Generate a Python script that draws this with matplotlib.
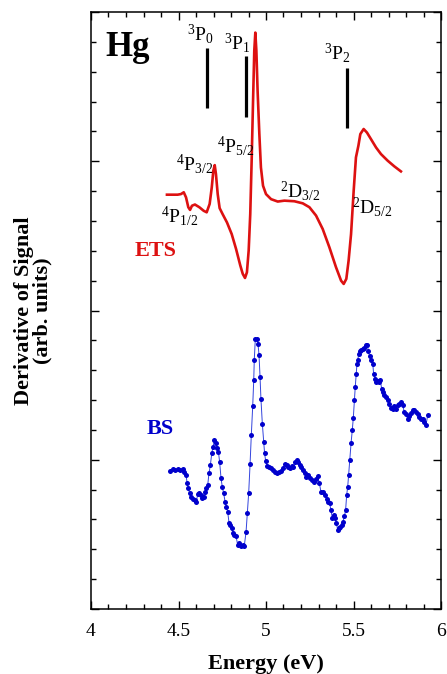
import matplotlib
matplotlib.use("Agg")
import matplotlib.pyplot as plt
from matplotlib.ticker import MultipleLocator, NullFormatter

plt.rcParams['font.family'] = ['Liberation Serif', 'DejaVu Serif']
plt.rcParams['mathtext.fontset'] = 'custom'
plt.rcParams['mathtext.rm'] = 'Liberation Serif'
plt.rcParams['mathtext.it'] = 'Liberation Serif:italic'
plt.rcParams['mathtext.bf'] = 'Liberation Serif:bold'

# ---------------- data ----------------
ets_energy = [4.434, 4.495, 4.514, 4.530, 4.543, 4.556, 4.566, 4.577, 4.594, 4.619,
              4.644, 4.661, 4.678, 4.690, 4.699, 4.707, 4.714, 4.724, 4.735, 4.752,
              4.777, 4.804, 4.829, 4.853, 4.867, 4.880, 4.891, 4.901, 4.910, 4.918,
              4.926, 4.933, 4.939, 4.945, 4.952, 4.962, 4.971, 4.983, 5.000, 5.029,
              5.067, 5.105, 5.162, 5.210, 5.248, 5.286, 5.324, 5.362, 5.400, 5.429,
              5.444, 5.459, 5.472, 5.486, 5.501, 5.514, 5.528, 5.539, 5.558, 5.577,
              5.600, 5.629, 5.657, 5.695, 5.733, 5.771]
ets_signal = [13.88, 13.88, 13.90, 13.96, 13.79, 13.46, 13.37, 13.51, 13.55, 13.46,
              13.34, 13.29, 13.57, 14.12, 14.68, 14.87, 14.57, 13.90, 13.43, 13.23,
              12.95, 12.56, 12.06, 11.51, 11.23, 11.09, 11.28, 12.01, 13.23, 15.02,
              17.02, 18.70, 19.31, 18.70, 17.36, 15.91, 14.79, 14.18, 13.90, 13.73,
              13.65, 13.68, 13.66, 13.59, 13.46, 13.18, 12.73, 12.12, 11.45, 11.00,
              10.89, 11.06, 11.67, 12.56, 14.01, 15.13, 15.52, 15.91, 16.08, 15.96,
              15.74, 15.46, 15.24, 15.02, 14.83, 14.66]

bs_energy = [4.453, 4.467, 4.482, 4.495, 4.510, 4.524, 4.533, 4.543, 4.549, 4.556,
             4.564, 4.571, 4.583, 4.594, 4.602, 4.610, 4.619, 4.629, 4.636, 4.644,
             4.651, 4.659, 4.667, 4.674, 4.682, 4.690, 4.697, 4.705, 4.712, 4.720,
             4.728, 4.735, 4.743, 4.750, 4.758, 4.766, 4.773, 4.781, 4.789, 4.796,
             4.804, 4.811, 4.819, 4.829, 4.838, 4.848, 4.857, 4.867, 4.876, 4.886,
             4.893, 4.901, 4.909, 4.916, 4.924, 4.930, 4.933, 4.939, 4.947, 4.954,
             4.960, 4.966, 4.971, 4.979, 4.987, 4.992, 4.998, 5.006, 5.015, 5.029,
             5.040, 5.051, 5.063, 5.074, 5.086, 5.097, 5.109, 5.118, 5.128, 5.137,
             5.147, 5.156, 5.166, 5.175, 5.185, 5.192, 5.200, 5.211, 5.223, 5.230,
             5.242, 5.253, 5.265, 5.276, 5.288, 5.295, 5.305, 5.314, 5.326, 5.337,
             5.349, 5.356, 5.364, 5.371, 5.379, 5.387, 5.394, 5.402, 5.410, 5.417,
             5.425, 5.432, 5.440, 5.448, 5.455, 5.461, 5.467, 5.472, 5.478, 5.486,
             5.493, 5.499, 5.505, 5.510, 5.516, 5.520, 5.524, 5.530, 5.535, 5.543,
             5.552, 5.562, 5.571, 5.577, 5.585, 5.592, 5.600, 5.610, 5.615, 5.623,
             5.630, 5.638, 5.646, 5.653, 5.661, 5.669, 5.676, 5.686, 5.695, 5.705,
             5.714, 5.724, 5.733, 5.743, 5.752, 5.762, 5.771, 5.781, 5.790, 5.800,
             5.810, 5.819, 5.829, 5.838, 5.848, 5.857, 5.867, 5.876, 5.886, 5.895,
             5.905, 5.914, 5.924]
bs_signal = [4.63, 4.69, 4.65, 4.68, 4.65, 4.69, 4.60, 4.49, 4.23, 4.04,
             3.88, 3.76, 3.69, 3.65, 3.60, 3.85, 3.88, 3.82, 3.71, 3.76,
             3.93, 4.04, 4.15, 4.54, 4.82, 5.21, 5.43, 5.66, 5.55, 5.38,
             5.27, 4.93, 4.38, 4.10, 3.88, 3.60, 3.43, 3.26, 2.87, 2.82,
             2.71, 2.54, 2.48, 2.43, 2.15, 2.20, 2.12, 2.15, 2.12, 2.58,
             3.21, 3.88, 4.86, 5.82, 6.79, 7.68, 8.35, 9.05, 9.05, 8.89,
             8.52, 7.77, 7.05, 6.21, 5.60, 5.21, 4.97, 4.80, 4.77, 4.71,
             4.65, 4.60, 4.54, 4.60, 4.63, 4.71, 4.86, 4.82, 4.77, 4.71,
             4.80, 4.77, 4.93, 4.99, 4.93, 4.82, 4.77, 4.65, 4.54, 4.43,
             4.49, 4.38, 4.32, 4.27, 4.35, 4.45, 4.21, 3.93, 3.93, 3.82,
             3.69, 3.60, 3.54, 3.32, 3.04, 3.15, 3.04, 2.87, 2.65, 2.71,
             2.76, 2.82, 2.93, 3.10, 3.32, 3.82, 4.10, 4.49, 4.99, 5.55,
             5.99, 6.41, 6.99, 7.44, 7.88, 8.22, 8.33, 8.55, 8.64, 8.69,
             8.72, 8.75, 8.83, 8.86, 8.64, 8.46, 8.35, 8.22, 7.88, 7.72,
             7.61, 7.64, 7.62, 7.66, 7.38, 7.27, 7.16, 7.10, 6.99, 6.88,
             6.75, 6.71, 6.79, 6.71, 6.83, 6.88, 6.94, 6.83, 6.60, 6.53,
             6.35, 6.46, 6.57, 6.68, 6.66, 6.60, 6.53, 6.44, 6.38, 6.35,
             6.27, 6.16, 6.49]

level_energy = [4.663, 4.888, 5.461]
level_top = [18.81, 18.53, 18.14]
level_bottom = [16.78, 16.49, 16.10]

label_texts = [r'$\mathregular{^3P_0}$', r'$\mathregular{^3P_1}$', r'$\mathregular{^3P_2}$',
               r'$\mathregular{^4P_{5/2}}$', r'$\mathregular{^4P_{3/2}}$', r'$\mathregular{^4P_{1/2}}$',
               r'$\mathregular{^2D_{3/2}}$', r'$\mathregular{^2D_{5/2}}$']
label_x = [4.625, 4.837, 5.410, 4.825, 4.594, 4.509, 5.196, 5.608]
label_y = [19.26, 18.97, 18.64, 15.52, 14.91, 13.15, 14.01, 13.45]

x_ticks = [4, 4.5, 5, 5.5, 6]
x_ticklabels = ['4', '4.5', '5', '5.5', '6']

# ---------------- figure ----------------
fig = plt.figure(figsize=(4.47, 6.74), dpi=100)
ax = fig.add_axes([91/447, 1 - 609/674, 350/447, 597/674])

red = '#DD1111'
blue = '#0000CC'

ax.plot(ets_energy, ets_signal, color=red, lw=1.9, solid_joinstyle='round')
ax.plot(bs_energy, bs_signal, color='#3344DD', lw=0.7, marker='o', ms=3.6,
        mfc=blue, mec=blue, mew=0)

for e, t, b in zip(level_energy, level_top, level_bottom):
    ax.plot([e, e], [b, t], color='black', lw=2.3, solid_capstyle='butt')

for t, x, y in zip(label_texts, label_x, label_y):
    ax.text(x, y, t, fontsize=14, ha='center', va='center')

ax.text(4.211, 18.80, 'Hg', fontsize=25, fontweight='bold', ha='center', va='center')
ax.text(4.37, 11.98, 'ETS', fontsize=16, fontweight='bold', color=red, ha='center', va='center')
ax.text(4.394, 6.04, 'BS', fontsize=16, fontweight='bold', color=blue, ha='center', va='center')

ax.set_xlim(4, 6)
ax.set_ylim(0, 20)
ax.set_xticks(x_ticks)
ax.set_xticklabels(x_ticklabels)
ax.xaxis.set_minor_locator(MultipleLocator(0.1))
ax.yaxis.set_major_locator(MultipleLocator(5))
ax.yaxis.set_minor_locator(MultipleLocator(1))
ax.yaxis.set_major_formatter(NullFormatter())
ax.tick_params(which='both', direction='in', top=True, right=True, width=1)
ax.tick_params(which='major', length=6)
ax.tick_params(which='minor', length=3.5)
ax.tick_params(axis='x', labelsize=14, pad=10)
for s in ax.spines.values():
    s.set_linewidth(1.1)

ax.set_xlabel('Energy (eV)', fontsize=16, fontweight='bold', labelpad=10)
ax.set_ylabel('Derivative of Signal\n(arb. units)', fontsize=16, fontweight='bold',
              linespacing=0.95, labelpad=24)

fig.savefig('out.png', dpi=100)
